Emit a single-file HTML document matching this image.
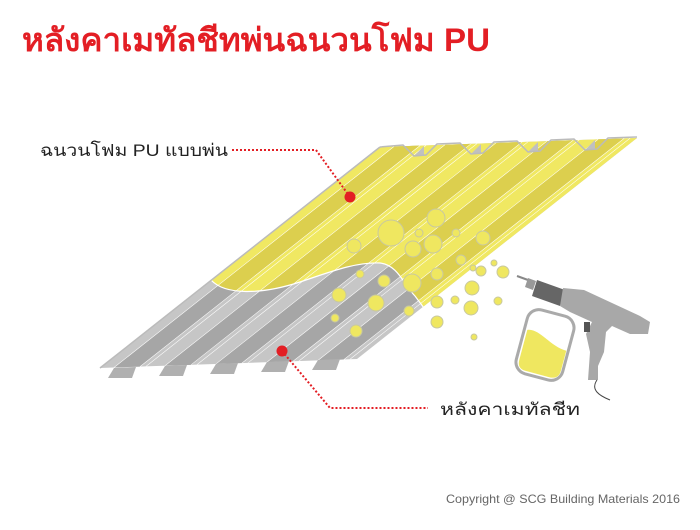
<!DOCTYPE html>
<html><head><meta charset="utf-8"><style>
body{margin:0;background:#fff;width:700px;height:525px;overflow:hidden;font-family:"Liberation Sans","DejaVu Sans",sans-serif}
</style></head><body>
<svg width="700" height="525" xmlns="http://www.w3.org/2000/svg">
<defs>
<clipPath id="yc"><path d="M0,0 H700 V316 H430 L415,296 C404,285 398,265 380,263 C355,262 330,272 300,282 C260,295 225,295 211,280 L0,280 Z"/></clipPath>
</defs>
<text x="22" y="51" font-size="32" font-weight="bold" fill="#e31e24" textLength="468" lengthAdjust="spacingAndGlyphs">หลังคาเมทัลชีทพ่นฉนวนโฟม PU</text>

<!-- gray roof -->
<g transform="matrix(1,-0.035,-2.8,2.21,380,147)">
  <rect x="0" y="0" width="257" height="100" fill="#c6c6c6"/>
  <rect x="14" y="0" width="26" height="100" fill="#a6a6a6"/>
  <rect x="65" y="0" width="26" height="100" fill="#a6a6a6"/>
  <rect x="116" y="0" width="26" height="100" fill="#a6a6a6"/>
  <rect x="167" y="0" width="26" height="100" fill="#a6a6a6"/>
  <rect x="218" y="0" width="26" height="100" fill="#a6a6a6"/>
  <g stroke="#fff" stroke-width="0.9" fill="none">
   <line x1="14" y1="0" x2="14" y2="100"/><line x1="40" y1="0" x2="40" y2="100"/><line x1="46" y1="0" x2="46" y2="100"/>
   <line x1="65" y1="0" x2="65" y2="100"/><line x1="91" y1="0" x2="91" y2="100"/><line x1="97" y1="0" x2="97" y2="100"/>
   <line x1="116" y1="0" x2="116" y2="100"/><line x1="142" y1="0" x2="142" y2="100"/><line x1="148" y1="0" x2="148" y2="100"/>
   <line x1="167" y1="0" x2="167" y2="100"/><line x1="193" y1="0" x2="193" y2="100"/><line x1="199" y1="0" x2="199" y2="100"/>
   <line x1="218" y1="0" x2="218" y2="100"/><line x1="244" y1="0" x2="244" y2="100"/><line x1="250" y1="0" x2="250" y2="100"/>
  </g>
</g>
<!-- bottom zigzag notches -->
<g fill="#b0b0b0">
<polygon points="114,368 136,367 132,378 108,378"/>
<polygon points="165,366 187,365 183,376 159,376"/>
<polygon points="216,364 238,363 234,374 210,374"/>
<polygon points="267,362 289,361 285,372 261,372"/>
<polygon points="318,360 340,359 336,370 312,370"/>
</g>
<!-- yellow roof -->
<g clip-path="url(#yc)">
<g transform="matrix(1,-0.035,-2.8,2.21,380,147)">
  <rect x="0" y="0" width="257" height="100" fill="#f0e862"/>
  <rect x="14" y="0" width="26" height="100" fill="#dccf4e"/>
  <rect x="65" y="0" width="26" height="100" fill="#dccf4e"/>
  <rect x="116" y="0" width="26" height="100" fill="#dccf4e"/>
  <rect x="167" y="0" width="26" height="100" fill="#dccf4e"/>
  <rect x="218" y="0" width="26" height="100" fill="#dccf4e"/>
  <g stroke="#fff" stroke-width="0.9" fill="none">
   <line x1="14" y1="0" x2="14" y2="100"/><line x1="40" y1="0" x2="40" y2="100"/><line x1="46" y1="0" x2="46" y2="100"/>
   <line x1="65" y1="0" x2="65" y2="100"/><line x1="91" y1="0" x2="91" y2="100"/><line x1="97" y1="0" x2="97" y2="100"/>
   <line x1="116" y1="0" x2="116" y2="100"/><line x1="142" y1="0" x2="142" y2="100"/><line x1="148" y1="0" x2="148" y2="100"/>
   <line x1="167" y1="0" x2="167" y2="100"/><line x1="193" y1="0" x2="193" y2="100"/><line x1="199" y1="0" x2="199" y2="100"/>
   <line x1="218" y1="0" x2="218" y2="100"/><line x1="244" y1="0" x2="244" y2="100"/><line x1="250" y1="0" x2="250" y2="100"/>
  </g>
</g>
</g>
<path d="M211,280 C225,295 260,295 300,282 C330,272 355,262 380,263 C398,265 404,285 415,296 L430,316" fill="none" stroke="#fff" stroke-width="1.2"/>
<!-- top zigzag profile -->
<g fill="#c0c0c0">
<polygon points="414,156 424,146 424,156"/>
<polygon points="471,154 481,144 481,154"/>
<polygon points="528,152 538,142 538,152"/>
<polygon points="585,150 595,140 595,150"/>
</g>
<polyline points="380,147 403,145 414,156 426,155 437,144 460,143 471,154 483,153 494,142 517,141 528,152 540,151 551,140 574,139 585,150 597,149 608,138 637,137" fill="none" stroke="#bbb" stroke-width="1.5"/>
<line x1="380" y1="147" x2="100" y2="368" stroke="#bbb" stroke-width="1.5"/>

<!-- bubbles -->
<g fill="#efe760" stroke="#c8c8a0" stroke-width="1">
<circle cx="391" cy="233" r="13"/><circle cx="436" cy="218" r="9"/><circle cx="433" cy="244" r="9"/>
<circle cx="413" cy="249" r="8"/><circle cx="354" cy="246" r="7"/><circle cx="419" cy="233" r="4"/>
<circle cx="456" cy="233" r="4"/><circle cx="483" cy="238" r="7"/><circle cx="461" cy="260" r="5"/>
<circle cx="473" cy="268" r="3"/><circle cx="494" cy="263" r="3"/><circle cx="481" cy="271" r="5"/>
<circle cx="503" cy="272" r="6"/><circle cx="412" cy="283" r="9"/><circle cx="437" cy="274" r="6"/>
<circle cx="360" cy="274" r="4"/><circle cx="384" cy="281" r="6"/><circle cx="339" cy="295" r="7"/>
<circle cx="376" cy="303" r="8"/><circle cx="472" cy="288" r="7"/><circle cx="498" cy="301" r="4"/>
<circle cx="437" cy="302" r="6"/><circle cx="455" cy="300" r="4"/><circle cx="471" cy="308" r="7"/>
<circle cx="409" cy="311" r="5"/><circle cx="335" cy="318" r="4"/><circle cx="356" cy="331" r="6"/>
<circle cx="437" cy="322" r="6"/><circle cx="474" cy="337" r="3"/>
</g>

<!-- spray gun -->
<g>
<line x1="517" y1="276" x2="528" y2="280" stroke="#888" stroke-width="2"/>
<polygon points="528,278 536,281 533,290 525,287" fill="#999"/>
<polygon points="537,280 565,290 560,306 532,296" fill="#666"/>
<polygon points="563,288 584,290 640,316 650,322 648,334 630,334 612,326 606,332 604,352 598,366 598,380 588,380 590,352 586,334 592,322 570,312 560,306" fill="#a8a8a8"/>
<rect x="584" y="322" width="6" height="10" fill="#555"/>
<g transform="rotate(15 545 345)">
<rect x="521" y="312" width="48" height="66" rx="12" fill="#fff" stroke="#aaa" stroke-width="3"/>
<path d="M524,335 C535,330 550,345 567,345 V366 Q567,375 557,375 H533 Q524,375 524,366 Z" fill="#efe760"/>
</g>
<path d="M597,380 C590,390 600,396 610,400" fill="none" stroke="#444" stroke-width="1"/>
</g>

<!-- labels -->
<text x="40" y="156" font-size="17" fill="#222" textLength="188" lengthAdjust="spacingAndGlyphs">ฉนวนโฟม PU แบบพ่น</text>
<polyline points="232,150 316,150 350,197" fill="none" stroke="#e31e24" stroke-width="2" stroke-dasharray="2,2"/>
<circle cx="350" cy="197" r="5.5" fill="#e31e24"/>
<circle cx="282" cy="351" r="5.5" fill="#e31e24"/>
<polyline points="282,351 330,408 428,408" fill="none" stroke="#e31e24" stroke-width="2" stroke-dasharray="2,2"/>
<text x="440" y="415" font-size="17" fill="#222" textLength="140" lengthAdjust="spacingAndGlyphs">หลังคาเมทัลชีท</text>
<text x="446" y="503" font-size="12" fill="#666" textLength="234" lengthAdjust="spacingAndGlyphs">Copyright  @ SCG Building Materials 2016</text>
</svg>
</body></html>
